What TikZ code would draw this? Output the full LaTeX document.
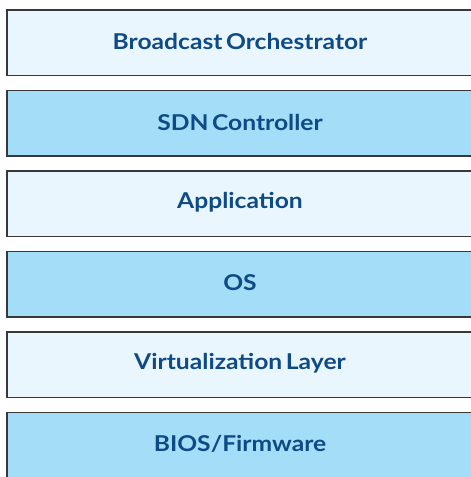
\documentclass[tikz,border=0pt]{standalone}
\usepackage{fontspec}
\setmainfont{Lato}[UprightFont=* Bold,FakeStretch=1.13,WordSpace=0.6]
\definecolor{txtblue}{HTML}{0E4A86}
\definecolor{lightfill}{HTML}{EAF6FD}
\definecolor{bluefill}{HTML}{A3DDF7}
\definecolor{edge}{HTML}{383838}
\begin{document}
\begin{tikzpicture}[x=1pt,y=-1pt,
  layer/.style={draw=edge,line width=1.5pt,minimum width=480pt,minimum height=65.5pt,anchor=north west,inner sep=0pt},
  lightlayer/.style={layer,fill=lightfill},
  bluelayer/.style={layer,fill=bluefill},
  label/.style={text=txtblue,font=\fontsize{21.8}{26}\selectfont,inner sep=0pt}]
\useasboundingbox (0,0) rectangle (471,477);
\begin{scope}
\clip (0,0) rectangle (471,477);
\node[lightlayer] (b1) at (6,9) {};
\node[bluelayer] (b2) at (6,89.5) {};
\node[lightlayer] (b3) at (6,170) {};
\node[bluelayer] (b4) at (6,250.5) {};
\node[lightlayer] (b5) at (6,331) {};
\node[bluelayer] (b6) at (6,411.5) {};
\end{scope}
\node[label] (t1) at (240,41.5) {Broadcast Orchestrator};
\node[label] (t2) at (240,122) {SDN Controller};
\node[label] (t3) at (240,202.5) {Application};
\node[label] (t4) at (240,283) {OS};
\node[label] (t5) at (240,363.5) {Virtualization Layer};
\node[label] (t6) at (240,444) {BIOS/Firmware};
\end{tikzpicture}
\end{document}
